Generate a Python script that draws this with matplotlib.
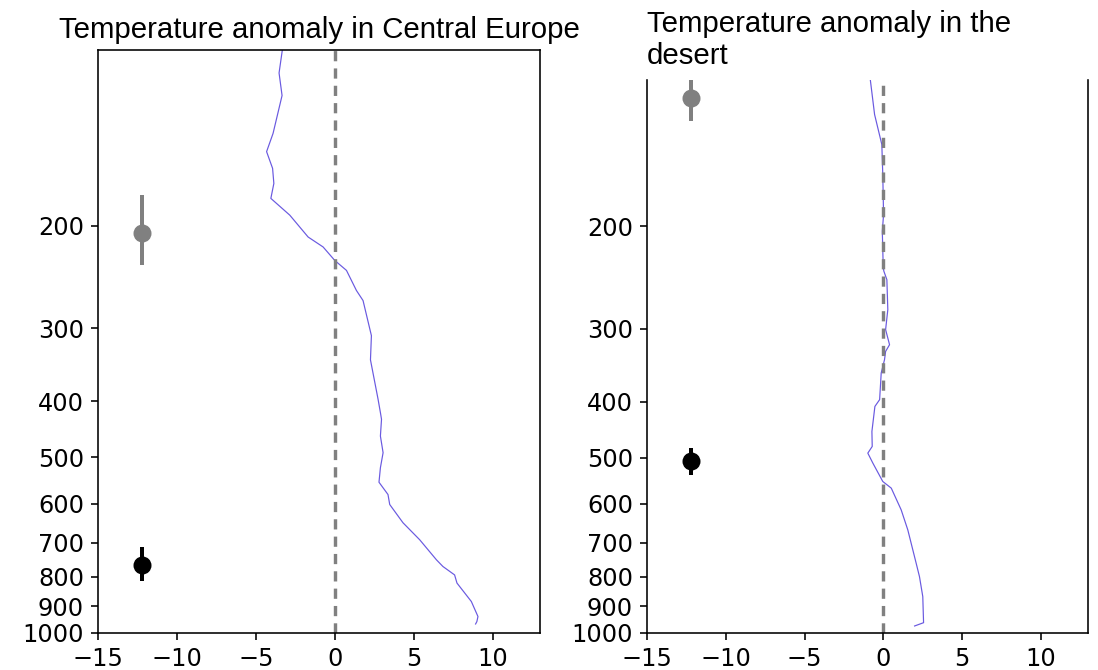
import numpy as np
import matplotlib
matplotlib.use("Agg")
import matplotlib.pyplot as plt
from matplotlib.ticker import NullLocator

plt.rcParams['font.family'] = ['DejaVu Sans']

# anomaly profiles (temperature anomaly, pressure in hPa)
europe_temp = [-3.3, -3.53, -3.34, -3.91, -4.32, -3.94, -3.86, -4.05, -2.85, -1.69,
               -0.74, 0.0, 0.74, 1.37, 1.79, 2.32, 2.26, 2.74, 2.89, 2.96,
               2.89, 3.06, 2.89, 2.80, 3.37, 3.48, 4.32, 5.38, 6.44, 6.85,
               7.59, 7.74, 8.65, 9.07, 9.0, 8.92]
europe_pres = [99, 109.5, 119.7, 139, 149.4, 159.6, 169.4, 179.7, 192, 209.3,
               217.7, 229.6, 238.8, 258.5, 269, 309, 340, 397, 418.7, 430,
               459.4, 490.6, 520.6, 551.3, 578.7, 602, 647, 692, 749, 769,
               795, 821, 883, 937, 956, 965]

desert_temp = [-0.82, -0.55, -0.09, -0.03, 0.02, -0.06, 0.0, 0.04, 0.23, 0.29,
               0.15, 0.40, 0.15, 0.08, -0.13, -0.23, -0.53, -0.72, -0.70, -0.98,
               -0.66, -0.03, 0.51, 1.14, 1.56, 2.09, 2.30, 2.51, 2.56, 1.99]
desert_pres = [112, 128.4, 144.6, 162.8, 190.8, 203.9, 235.6, 238.8, 246.9, 278,
               300.9, 319.4, 328, 338.9, 357.3, 397, 407.8, 450.3, 477.8, 490.6,
               510.4, 548.9, 563.6, 614.3, 665, 758.7, 800, 865.8, 960, 972.6]

# markers with vertical ranges: (x, p, p_low, p_high)
europe_gray = (-12.2, 205.7, 177.6, 233.6)
europe_black = (-12.2, 764, 711, 813)
desert_gray = (-12.2, 120.5, 109, 131.6)
desert_black = (-12.2, 506, 481, 535)

yticks = [200, 300, 400, 500, 600, 700, 800, 900, 1000]
xticks = [-15, -10, -5, 0, 5, 10]

titles = ["Temperature anomaly in Central Europe", "Temperature anomaly in the\ndesert"]

fig = plt.figure(figsize=(1098 / 144, 670 / 144), dpi=144)
ax1 = fig.add_axes([98 / 1098, 37 / 670, 442 / 1098, 583 / 670])
ax2 = fig.add_axes([647 / 1098, 37 / 670, 441 / 1098, 553 / 670])


def draw_point(ax, pt, color):
    x, p, lo, hi = pt
    ax.errorbar([x], [p], yerr=[[p - lo], [hi - p]], fmt='o', color=color,
                markersize=8, elinewidth=2, capsize=0)


def style_axis(ax, top):
    ax.set_yscale('log')
    ax.set_ylim(1000, top)
    ax.set_xlim(-15, 13)
    ax.set_yticks(yticks)
    ax.set_yticklabels([str(t) for t in yticks])
    ax.yaxis.set_minor_locator(NullLocator())
    ax.set_xticks(xticks)
    ax.tick_params(labelsize=12, length=3.5, width=0.8)


for ax, temp, pres in [(ax1, europe_temp, europe_pres), (ax2, desert_temp, desert_pres)]:
    ax.plot(temp, pres, color='#6a5ae0', lw=0.6)
    ax.axvline(0, color='gray', ls=(0, (3.0, 2.1)), lw=1.7)

draw_point(ax1, europe_gray, 'gray')
draw_point(ax1, europe_black, 'black')
style_axis(ax1, 100)
ax1.set_title(titles[0], fontsize=14.7, family='Liberation Sans')

draw_point(ax2, desert_gray, 'gray')
draw_point(ax2, desert_black, 'black')
style_axis(ax2, 112)
ax2.spines['top'].set_visible(False)
ax2.set_title(titles[1], fontsize=14.7, family='Liberation Sans', loc='left', pad=8)

fig.savefig("out.png", dpi=144)
